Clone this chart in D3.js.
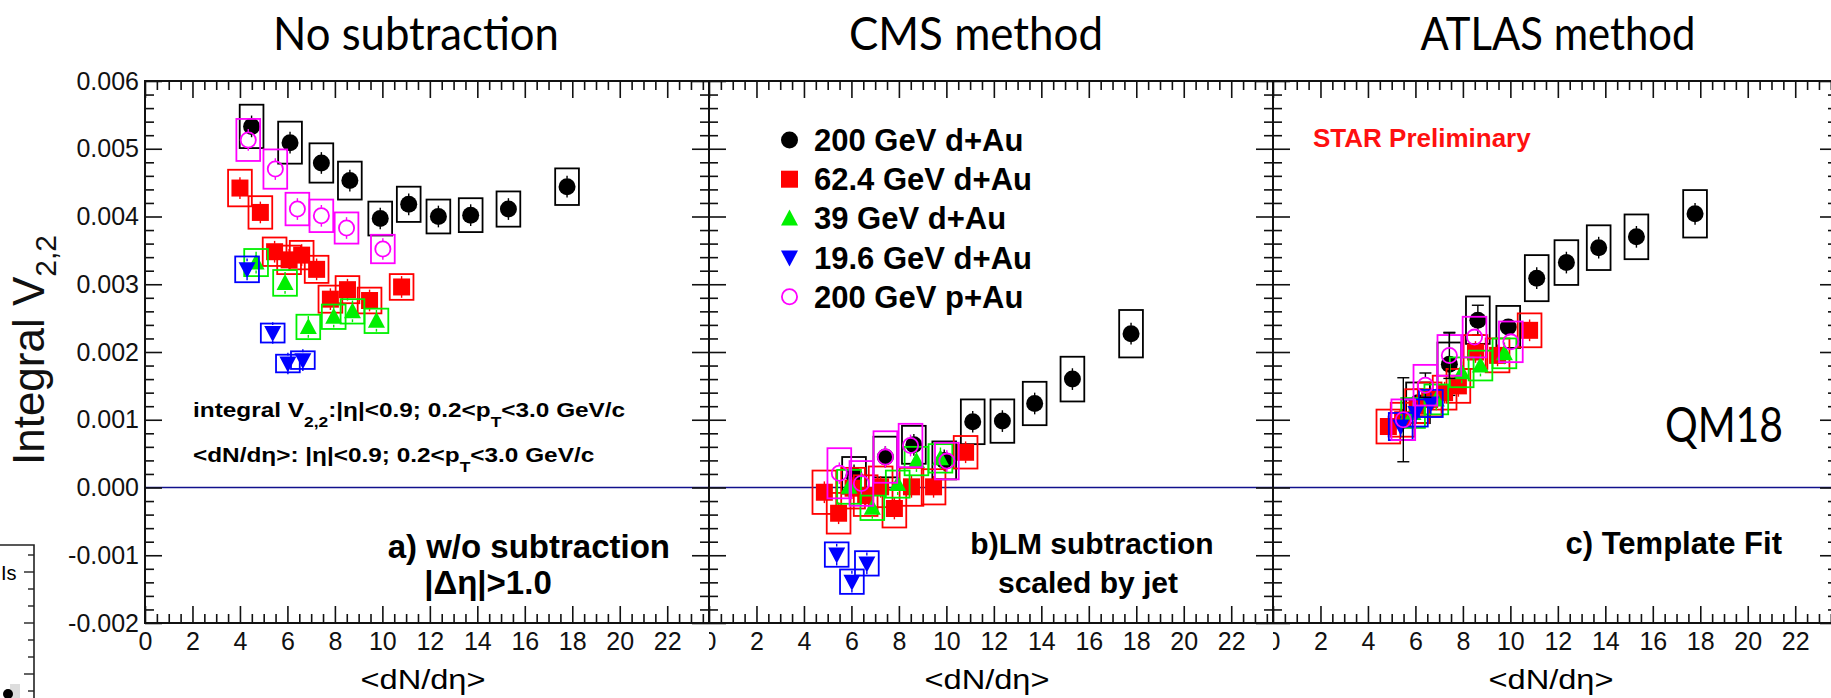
<!DOCTYPE html>
<html>
<head>
<meta charset="utf-8">
<script src="https://cdn.jsdelivr.net/npm/d3@7"></script>
<style>
  body { margin: 0; background: #fff; }
  svg text { font-family: "Liberation Sans", Arial, sans-serif; }
</style>
</head>
<body>
<svg id="chart" width="1831" height="698"></svg>
<script>
// ---- data ----
// x positions (<dN/deta>) of every multiplicity bin, panel a; panels b and c drop the first bin
var xDAu200 = [4.49, 6.11, 7.43, 8.63, 9.91, 11.11, 12.36, 13.72, 15.31, 17.78];
var xDAu62  = [4.00, 4.86, 5.46, 6.07, 6.60, 7.23, 7.81, 8.53, 9.46, 10.81];
var xDAu39  = [4.68, 5.90, 6.88, 7.95, 8.74, 9.75];
var xDAu19  = [4.30, 5.38, 6.02, 6.65];
var xPAu200 = [4.35, 5.49, 6.42, 7.43, 8.49, 10.02];

// a) no subtraction
var dAu200A = [0.00533, 0.00509, 0.00479, 0.00453, 0.00397, 0.00418, 0.00400, 0.00402, 0.00411, 0.00444];
var dAu62A  = [0.00442, 0.00406, 0.00348, 0.00336, 0.00343, 0.00322, 0.00278, 0.00292, 0.00276, 0.00296];
var dAu39A  = [0.00332, 0.00302, 0.00237, 0.00252, 0.00260, 0.00246];
var dAu19A  = [0.00322, 0.00228, 0.00183, 0.00188];
var pAu200A = [0.00513, 0.00470, 0.00411, 0.00401, 0.00383, 0.00352];
var sysDAu200A = [0.00032, 0.00031, 0.00029, 0.00028, 0.00025, 0.00026, 0.00025, 0.00025, 0.00026, 0.00027];
var sysDAu62A  = [0.00027, 0.00024, 0.00021, 0.00021, 0.00021, 0.00020, 0.00020, 0.00020, 0.00019, 0.00019];
var sysDAu39A  = [0.00020, 0.00019, 0.00018, 0.00018, 0.00018, 0.00018];
var sysDAu19A  = [0.00019, 0.00014, 0.00013, 0.00013];
var sysPAu200A = [0.00031, 0.00029, 0.00024, 0.00024, 0.00023, 0.00021];

// b) LM subtraction
var dAu200B = [0.00018, 0.00045, 0.00063, 0.00040, 0.00097, 0.00098, 0.00124, 0.00160, 0.00227];
var dAu62B  = [-0.00007, -0.00038, -0.00001, -0.00012, 0.00001, -0.00031, 0.00001, 0.00001, 0.00052];
var dAu39B  = [0.00001, -0.00030, 0.00005, 0.00039, 0.00043];
var dAu19B  = [-0.00099, -0.00139, -0.00112];
var pAu200B = [0.00021, 0.00006, 0.00045, 0.00062, 0.00039];
var sysDAu200B = [0.00027, 0.00030, 0.00028, 0.00028, 0.00033, 0.00032, 0.00032, 0.00033, 0.00035];
var sysDAu62B  = [0.00032, 0.00030, 0.00030, 0.00030, 0.00030, 0.00028, 0.00028, 0.00026, 0.00024];
var sysDAu39B  = [0.00025, 0.00018, 0.00020, 0.00021, 0.00021];
var sysDAu19B  = [0.00018, 0.00018, 0.00018];
var sysPAu200B = [0.00037, 0.00033, 0.00038, 0.00032, 0.00027];

// c) template fit
var dAu200C = [0.00125, 0.00182, 0.00247, 0.00237, 0.00309, 0.00332, 0.00354, 0.00370, 0.00404];
var dAu62C  = [0.00090, 0.00100, 0.00120, 0.00130, 0.00140, 0.00150, 0.00200, 0.00195, 0.00232];
var dAu39C  = [0.00110, 0.00130, 0.00170, 0.00180, 0.00198];
var dAu19C  = [0.00090, 0.00110, 0.00124];
var pAu200C = [0.00100, 0.00151, 0.00195, 0.00222, 0.00215];
var sysDAu200C = [0.00030, 0.00032, 0.00035, 0.00031, 0.00034, 0.00033, 0.00033, 0.00033, 0.00035];
var sysDAu62C  = [0.00025, 0.00025, 0.00025, 0.00025, 0.00025, 0.00025, 0.00025, 0.00025, 0.00025];
var sysDAu39C  = [0.00022, 0.00022, 0.00022, 0.00022, 0.00022];
var sysDAu19C  = [0.00020, 0.00020, 0.00020];
var sysPAu200C = [0.00030, 0.00030, 0.00030, 0.00030, 0.00030];
var statDAu200C = [0.00020, 0.00046, 0.00022, 0.00008, 0.00016, 0.00016, 0.00016, 0.00016, 0.00016];
var statPAu200C = [0.00062, 0.00018, 0.00034, 0.00012, 0.00012];

var legendLabels = ["200 GeV d+Au", "62.4 GeV d+Au", "39 GeV d+Au", "19.6 GeV d+Au", "200 GeV p+Au"];
var panelTitles = ["No subtraction", "CMS method", "ATLAS method"];
var xTicks = [0, 2, 4, 6, 8, 10, 12, 14, 16, 18, 20, 22];
var yTicks = [-0.002, -0.001, 0.000, 0.001, 0.002, 0.003, 0.004, 0.005, 0.006];

// ---- layout ----
var svg = d3.select("#chart");
var panelLeft = [145, 709, 1273];
var panelW = 564, frameTop = 81, frameBottom = 623;
var clipRanges = [[0, 709], [709, 1273], [1273, 1831]];
var y = d3.scaleLinear().domain([-0.002, 0.006]).range([frameBottom, frameTop]);

var series = [
    {shape: "circle", color: "#000000", x: xDAu200, vals: [dAu200A, dAu200B, dAu200C], sys: [sysDAu200A, sysDAu200B, sysDAu200C], stat: [null, null, statDAu200C]},
    {shape: "square", color: "#ff0000", x: xDAu62, vals: [dAu62A, dAu62B, dAu62C], sys: [sysDAu62A, sysDAu62B, sysDAu62C], stat: [null, null, null]},
    {shape: "triUp", color: "#00f000", x: xDAu39, vals: [dAu39A, dAu39B, dAu39C], sys: [sysDAu39A, sysDAu39B, sysDAu39C], stat: [null, null, null]},
    {shape: "triDown", color: "#0000ff", x: xDAu19, vals: [dAu19A, dAu19B, dAu19C], sys: [sysDAu19A, sysDAu19B, sysDAu19C], stat: [null, null, null]},
    {shape: "openCircle", color: "#ff00ff", x: xPAu200, vals: [pAu200A, pAu200B, pAu200C], sys: [sysPAu200A, sysPAu200B, sysPAu200C], stat: [null, null, statPAu200C]}
];

function drawMarker(g, shape, color, cx, cy) {
    if (shape === "circle") {
        g.append("circle").attr("cx", cx).attr("cy", cy).attr("r", 8.5).attr("fill", color);
    } else if (shape === "openCircle") {
        g.append("circle").attr("cx", cx).attr("cy", cy).attr("r", 7.6)
            .attr("fill", "none").attr("stroke", color).attr("stroke-width", 1.8);
    } else if (shape === "square") {
        g.append("rect").attr("x", cx - 8.5).attr("y", cy - 8.5).attr("width", 17).attr("height", 17).attr("fill", color);
    } else if (shape === "triUp") {
        g.append("path").attr("d", "M" + cx + "," + (cy - 9) + "L" + (cx + 8.5) + "," + (cy + 7) + "L" + (cx - 8.5) + "," + (cy + 7) + "Z").attr("fill", color);
    } else {
        g.append("path").attr("d", "M" + cx + "," + (cy + 9) + "L" + (cx + 8.5) + "," + (cy - 7) + "L" + (cx - 8.5) + "," + (cy - 7) + "Z").attr("fill", color);
    }
}

var defs = svg.append("defs");
clipRanges.forEach(function(r, i) {
    defs.append("clipPath").attr("id", "clip" + i)
        .append("rect").attr("x", r[0]).attr("y", 0).attr("width", r[1] - r[0]).attr("height", 698);
});

var yFormat = function(v) { return d3.format(".3f")(v).replace("\u2212", "-"); };

panelLeft.forEach(function(x0, p) {
    var g = svg.append("g").attr("clip-path", "url(#clip" + p + ")");
    var x = d3.scaleLinear().domain([0, 23.76]).range([x0, x0 + panelW]);
    var xMinor = d3.range(0, 23.76, 0.5).filter(function(v) { return v % 2 !== 0; });
    var yMinor = d3.range(-0.002, 0.00601, 0.0002).filter(function(v) { return Math.abs(Math.round(v * 1000) - v * 1000) > 1e-6; });

    // zero line
    g.append("line").attr("x1", x0).attr("x2", x0 + panelW).attr("y1", y(0)).attr("y2", y(0))
        .attr("stroke", "#10108c").attr("stroke-width", 1.6);

    // axes, ticks pointing inside the frame
    function styleAxis(sel) {
        sel.select(".domain").remove();
        sel.selectAll(".tick line").attr("stroke", "#111").attr("stroke-width", 1.6);
    }
    var bottomAx = g.append("g").attr("transform", "translate(0," + frameBottom + ")")
        .call(d3.axisBottom(x).tickValues(xTicks).tickSizeInner(-17).tickSizeOuter(0).tickPadding(9).tickFormat(d3.format("d")));
    styleAxis(bottomAx);
    bottomAx.selectAll("text").attr("font-size", 25).attr("fill", "#111").attr("font-family", "Liberation Sans");
    g.append("g").attr("transform", "translate(0," + frameBottom + ")")
        .call(d3.axisBottom(x).tickValues(xMinor).tickSizeInner(-9).tickSizeOuter(0).tickFormat("")).call(styleAxis);
    g.append("g").attr("transform", "translate(0," + frameTop + ")")
        .call(d3.axisTop(x).tickValues(xTicks).tickSizeInner(-17).tickSizeOuter(0).tickFormat("")).call(styleAxis);
    g.append("g").attr("transform", "translate(0," + frameTop + ")")
        .call(d3.axisTop(x).tickValues(xMinor).tickSizeInner(-9).tickSizeOuter(0).tickFormat("")).call(styleAxis);

    var leftAx = g.append("g").attr("transform", "translate(" + x0 + ",0)")
        .call(d3.axisLeft(y).tickValues(yTicks).tickSizeInner(-17).tickSizeOuter(0).tickPadding(6)
            .tickFormat(p === 0 ? yFormat : ""));
    styleAxis(leftAx);
    leftAx.selectAll("text").attr("font-size", 25).attr("fill", "#111").attr("font-family", "Liberation Sans");
    g.append("g").attr("transform", "translate(" + x0 + ",0)")
        .call(d3.axisLeft(y).tickValues(yMinor).tickSizeInner(-9).tickSizeOuter(0).tickFormat("")).call(styleAxis);
    g.append("g").attr("transform", "translate(" + (x0 + panelW) + ",0)")
        .call(d3.axisRight(y).tickValues(yTicks).tickSizeInner(-17).tickSizeOuter(0).tickFormat("")).call(styleAxis);
    g.append("g").attr("transform", "translate(" + (x0 + panelW) + ",0)")
        .call(d3.axisRight(y).tickValues(yMinor).tickSizeInner(-9).tickSizeOuter(0).tickFormat("")).call(styleAxis);

    g.append("rect").attr("x", x0).attr("y", frameTop).attr("width", panelW).attr("height", frameBottom - frameTop)
        .attr("fill", "none").attr("stroke", "#111").attr("stroke-width", 2);

    // data: systematic box, stat bar (outside the marker only), marker
    series.forEach(function(s) {
        var xs = p === 0 ? s.x : s.x.slice(1);
        var vals = s.vals[p], sys = s.sys[p], stat = s.stat[p];
        vals.forEach(function(v, i) {
            var cx = x(xs[i]), cy = y(v);
            g.append("rect").attr("x", x(xs[i] - 0.5)).attr("y", y(v + sys[i]))
                .attr("width", x(xs[i] + 0.5) - x(xs[i] - 0.5)).attr("height", y(v - sys[i]) - y(v + sys[i]))
                .attr("fill", "none").attr("stroke", s.color).attr("stroke-width", 1.8);
            var e = stat ? stat[i] : 0.00016;
            var barColor = stat ? "#000" : s.color;
            if (y(v + e) < cy - 8.5) {
                g.append("line").attr("x1", cx).attr("x2", cx).attr("y1", y(v + e)).attr("y2", cy - 8)
                    .attr("stroke", barColor).attr("stroke-width", 1.4);
                g.append("line").attr("x1", cx).attr("x2", cx).attr("y1", cy + 8).attr("y2", y(v - e))
                    .attr("stroke", barColor).attr("stroke-width", 1.4);
            }
            if (stat && stat[i] > 0.00017) {
                [v + e, v - e].forEach(function(ev) {
                    g.append("line").attr("x1", cx - 6).attr("x2", cx + 6).attr("y1", y(ev)).attr("y2", y(ev))
                        .attr("stroke", "#000").attr("stroke-width", 1.4);
                });
            }
            drawMarker(g, s.shape, s.color, cx, cy);
        });
    });

    // x axis title
    svg.append("text").attr("x", x0 + panelW / 2 - 4).attr("y", 689).attr("text-anchor", "middle")
        .attr("font-size", 27).attr("textLength", 125).attr("lengthAdjust", "spacingAndGlyphs")
        .text("<dN/d\u03b7>");

    // panel title
    svg.append("text").attr("x", [416, 976, 1558][p]).attr("y", 50).attr("text-anchor", "middle")
        .style("font-family", "Lato, 'Open Sans', sans-serif").attr("font-size", 47)
        .attr("textLength", [286, 254, 275][p]).attr("lengthAdjust", "spacingAndGlyphs")
        .text(panelTitles[p]);
});

// y axis title
var yTitle = svg.append("text").attr("transform", "translate(44,350) rotate(-90)").attr("text-anchor", "middle")
    .attr("font-size", 44).attr("fill", "#111");
yTitle.append("tspan").text("Integral V");
yTitle.append("tspan").attr("font-size", 30).attr("dy", 12).text("2,2");

// annotations in panel a (ROOT text is drawn a little wider than Arial)
var note1 = svg.append("text").attr("transform", "translate(193,417) scale(1.16,1)").attr("font-size", 21).attr("font-weight", "bold");
note1.append("tspan").text("integral V");
note1.append("tspan").attr("font-size", 15).attr("dy", 10).text("2,2");
note1.append("tspan").attr("dy", -10).text(":|\u03b7|<0.9; 0.2<p");
note1.append("tspan").attr("font-size", 15).attr("dy", 10).text("T");
note1.append("tspan").attr("dy", -10).text("<3.0 GeV/c");
var note2 = svg.append("text").attr("transform", "translate(193,462) scale(1.16,1)").attr("font-size", 21).attr("font-weight", "bold");
note2.append("tspan").text("<dN/d\u03b7>: |\u03b7|<0.9; 0.2<p");
note2.append("tspan").attr("font-size", 15).attr("dy", 10).text("T");
note2.append("tspan").attr("dy", -10).text("<3.0 GeV/c");

svg.append("text").attr("x", 670).attr("y", 558).attr("text-anchor", "end")
    .attr("font-size", 33).attr("font-weight", "bold").text("a) w/o subtraction");
svg.append("text").attr("x", 488).attr("y", 594).attr("text-anchor", "middle")
    .attr("font-size", 33).attr("font-weight", "bold").text("|\u0394\u03b7|>1.0");

// panel b labels and legend
svg.append("text").attr("x", 1092).attr("y", 554).attr("text-anchor", "middle")
    .attr("font-size", 30).attr("font-weight", "bold").text("b)LM subtraction");
svg.append("text").attr("x", 1088).attr("y", 593).attr("text-anchor", "middle")
    .attr("font-size", 30).attr("font-weight", "bold").text("scaled by jet");
series.forEach(function(s, i) {
    var ly = 140 + i * 39.2;
    drawMarker(svg, s.shape, s.color, 789.5, ly);
    svg.append("text").attr("x", 814).attr("y", ly + 11).attr("font-size", 31).attr("font-weight", "bold")
        .text(legendLabels[i]);
});

// panel c labels
svg.append("text").attr("x", 1313).attr("y", 147).attr("font-size", 26).attr("font-weight", "bold")
    .attr("fill", "#ff1010").text("STAR Preliminary");
svg.append("text").attr("x", 1782).attr("y", 554).attr("text-anchor", "end")
    .attr("font-size", 31).attr("font-weight", "bold").text("c) Template Fit");
svg.append("text").attr("x", 1665).attr("y", 442).style("font-family", "Lato, 'Open Sans', sans-serif")
    .attr("font-size", 49).attr("textLength", 118).attr("lengthAdjust", "spacingAndGlyphs").text("QM18");

// remnant of a neighbouring figure at the lower left edge
var rem = svg.append("g");
rem.append("path").attr("d", "M0,545H34V698").attr("fill", "none").attr("stroke", "#222").attr("stroke-width", 1.6);
d3.range(555, 698, 17).forEach(function(ty, i) {
    rem.append("line").attr("x1", 34).attr("x2", i % 3 === 1 ? 24 : 28).attr("y1", ty).attr("y2", ty)
        .attr("stroke", "#222").attr("stroke-width", 1.4);
});
rem.append("text").attr("x", 1).attr("y", 580).attr("font-size", 20).text("Is");
rem.append("rect").attr("x", 10).attr("y", 684).attr("width", 10).attr("height", 14).attr("fill", "#ddd");
rem.append("circle").attr("cx", 8).attr("cy", 694).attr("r", 5).attr("fill", "#000");
</script>
</body>
</html>
